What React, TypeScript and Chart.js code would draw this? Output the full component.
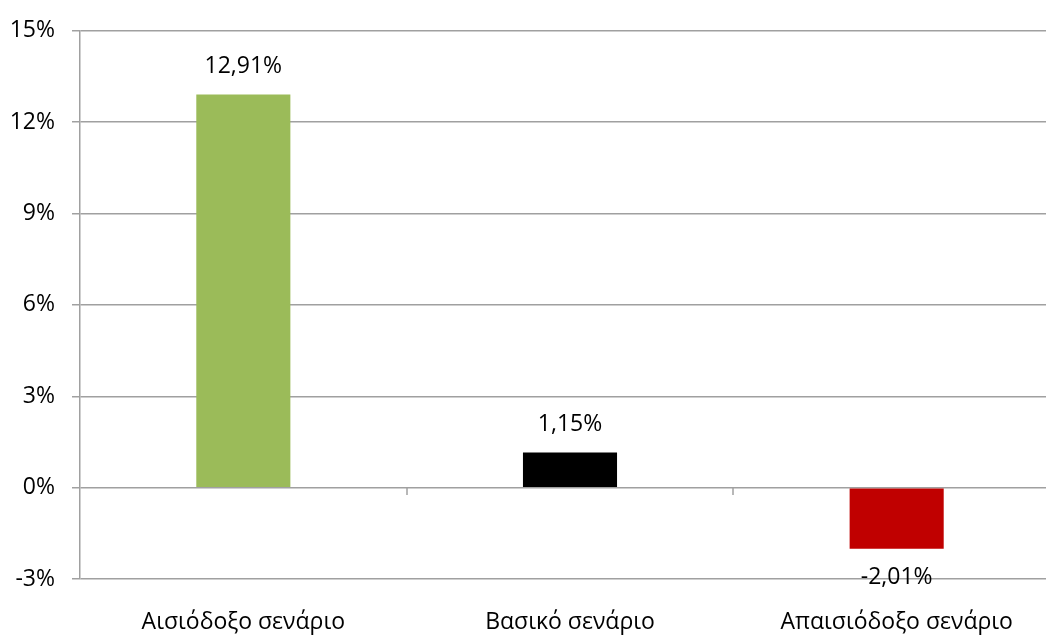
import React, { useEffect, useRef } from "react";
import { Chart, registerables } from "chart.js";

Chart.register(...registerables);

const categories = ["Αισιόδοξο σενάριο", "Βασικό σενάριο", "Απαισιόδοξο σενάριο"];
const values = [12.91, 1.15, -2.01];
const barColors = ["#9BBB59", "#000000", "#C00000"];
const yMin = -3;
const yMax = 15;
const yStep = 3;

const FONT = "'Open Sans', 'DejaVu Sans', sans-serif";
const FS = 23;
const GRID = "#a0a0a0";

const fmt = (v: number) => v.toFixed(2).replace(".", ",") + "%";

const valueLabels = {
  id: "valueLabels",
  afterDatasetsDraw(chart: any) {
    const ctx = chart.ctx;
    const meta = chart.getDatasetMeta(0);
    ctx.save();
    ctx.font = `${FS}px ${FONT}`;
    ctx.fillStyle = "#000";
    ctx.textAlign = "center";
    ctx.textBaseline = "middle";
    meta.data.forEach((bar: any, i: number) => {
      const v = values[i];
      const y = v >= 0 ? bar.y - 28 : bar.y + 29;
      ctx.fillText(fmt(v), bar.x, y);
    });
    ctx.restore();
  },
};

const zeroTicks = {
  id: "zeroTicks",
  afterDraw(chart: any) {
    const x = chart.scales.x;
    const y = chart.scales.y;
    const ctx = chart.ctx;
    const y0 = Math.round(y.getPixelForValue(0));
    ctx.save();
    ctx.strokeStyle = GRID;
    ctx.lineWidth = 1.5;
    for (let i = 1; i < categories.length; i++) {
      const px = Math.round((x.getPixelForValue(i - 1) + x.getPixelForValue(i)) / 2);
      ctx.beginPath();
      ctx.moveTo(px, y0);
      ctx.lineTo(px, y0 + 7);
      ctx.stroke();
    }
    ctx.restore();
  },
};

export default function App() {
  const ref = useRef<HTMLCanvasElement>(null);
  useEffect(() => {
    if (!ref.current) return;
    const chart = new Chart(ref.current, {
      type: "bar",
      data: {
        labels: categories,
        datasets: [
          {
            data: values,
            backgroundColor: barColors,
            borderWidth: 0,
            barPercentage: 0.288,
            categoryPercentage: 1,
          },
        ],
      },
      plugins: [valueLabels, zeroTicks],
      options: {
        responsive: false,
        animation: false,
        layout: { padding: { top: 29, right: 10, bottom: 0, left: 0 } },
        plugins: { legend: { display: false }, tooltip: { enabled: false } },
        scales: {
          x: {
            position: "bottom",
            afterFit: (s: any) => {
              s.height = 56;
            },
            grid: { display: false, drawTicks: false },
            border: { display: false },
            ticks: { color: "#000", font: { family: FONT, size: FS }, padding: 30, maxRotation: 0 },
          },
          y: {
            min: yMin,
            max: yMax,
            afterFit: (s: any) => {
              s.width = 80;
            },
            ticks: {
              stepSize: yStep,
              color: "#000",
              padding: 17,
              font: { family: FONT, size: FS },
              callback: (v: any) => v + "%",
            },
            grid: { color: GRID, lineWidth: 1.5, tickLength: 8 },
            border: { color: GRID, width: 1.5 },
          },
        },
      },
    });
    return () => chart.destroy();
  }, []);
  return (
    <div style={{ position: "fixed", left: 0, top: 0, width: 1046, height: 635, overflow: "hidden", background: "#fff" }}>
      <canvas ref={ref} width={1070} height={635} />
    </div>
  );
}
